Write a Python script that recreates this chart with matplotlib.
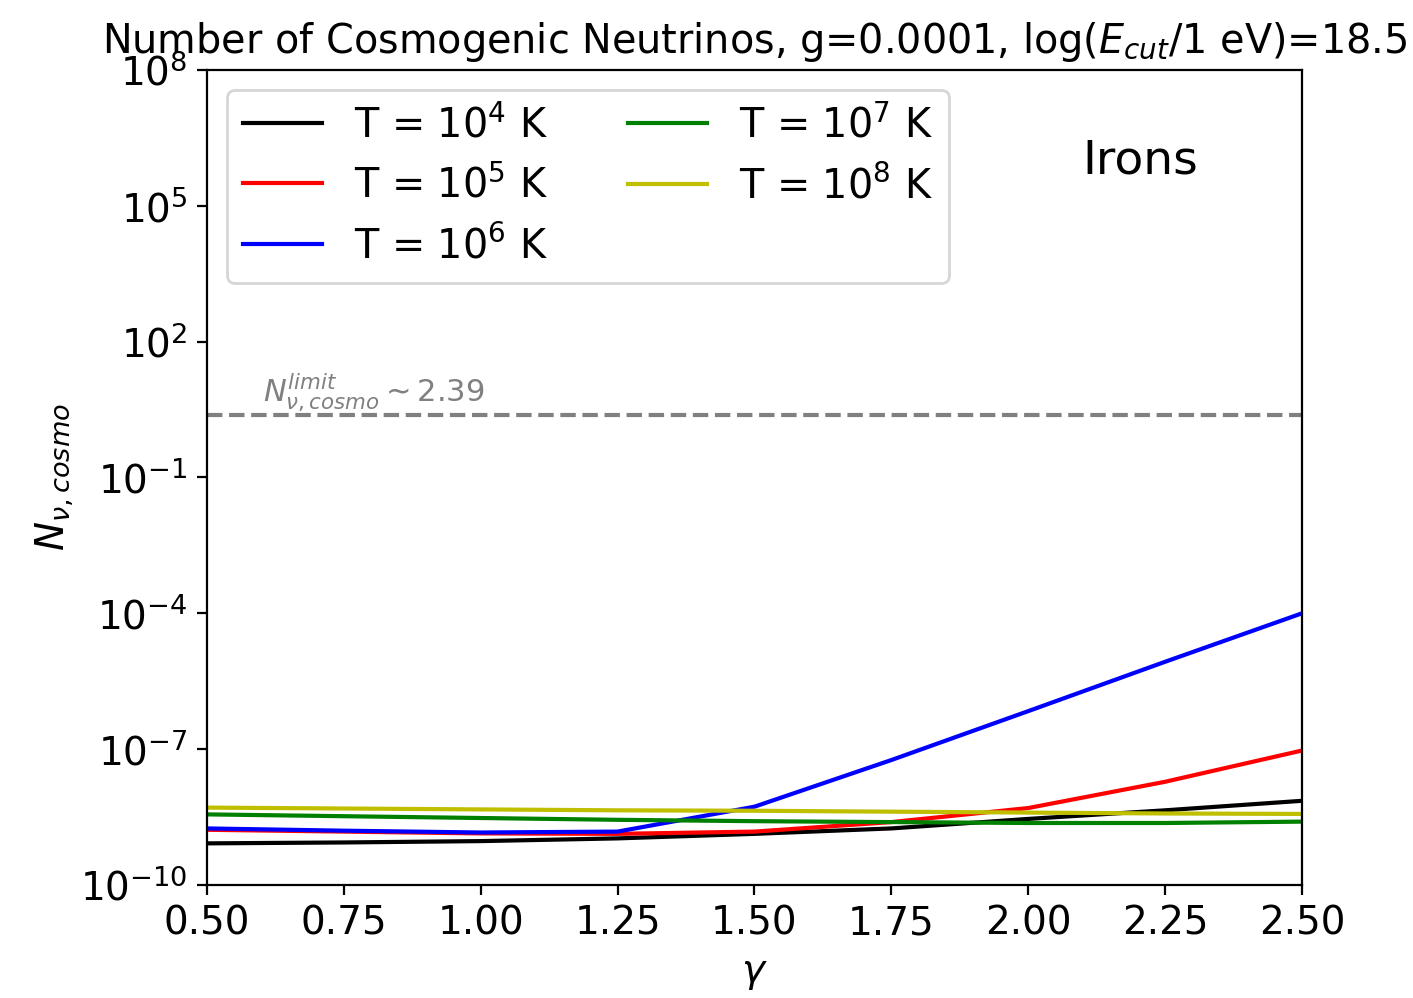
import matplotlib
matplotlib.use("Agg")
import matplotlib.pyplot as plt
import numpy as np

# spectral index grid
gamma = [0.50, 0.75, 1.00, 1.25, 1.50, 1.75, 2.00, 2.25, 2.50]

# log10 of N_nu,cosmo, one list per temperature
logN_T4 = [-9.08, -9.06, -9.03, -8.97, -8.87, -8.75, -8.54, -8.35, -8.14]
logN_T5 = [-8.78, -8.82, -8.86, -8.87, -8.82, -8.61, -8.30, -7.72, -7.03]
logN_T6 = [-8.75, -8.80, -8.84, -8.82, -8.27, -7.24, -6.16, -5.07, -4.00]
logN_T7 = [-8.44, -8.48, -8.52, -8.56, -8.59, -8.61, -8.63, -8.63, -8.60]
logN_T8 = [-8.29, -8.31, -8.33, -8.35, -8.36, -8.38, -8.40, -8.42, -8.43]

labels = [r"T = $10^4$ K", r"T = $10^5$ K", r"T = $10^6$ K",
          r"T = $10^7$ K", r"T = $10^8$ K"]
colors = ["k", "r", "b", "g", "y"]
N_limit = 2.39

fig = plt.figure(figsize=(7.065, 4.99), dpi=200)
ax = fig.add_axes([0.1465, 0.1132, 0.7749, 0.8167])

series = [logN_T4, logN_T5, logN_T6, logN_T7, logN_T8]
for s, lab, c in zip(series, labels, colors):
    ax.plot(gamma, 10.0 ** np.array(s), color=c, label=lab, lw=1.5)

ax.axhline(N_limit, color="gray", ls="--", lw=1.5)
ax.text(0.602, 5.0, r"$N_{\nu,cosmo}^{limit} \sim 2.39$", color="gray",
        fontsize=11)

ax.set_yscale("log")
ax.set_ylim(1e-10, 1e8)
ax.set_xlim(0.5, 2.5)
ax.set_yticks([1e-10, 1e-7, 1e-4, 1e-1, 1e2, 1e5, 1e8])
ax.minorticks_off()
ax.tick_params(labelsize=14)

ax.set_xlabel(r"$\gamma$", fontsize=14)
ax.set_ylabel(r"$N_{\nu, cosmo}$", fontsize=14, labelpad=2)
ax.set_title(r"Number of Cosmogenic Neutrinos, g=0.0001, log($E_{cut}$/1 eV)=18.5",
             fontsize=14.3)
ax.text(0.852, 0.888, "Irons", transform=ax.transAxes, fontsize=17,
        ha="center", va="center")
ax.legend(loc="upper left", ncol=2, fontsize=14.3)

fig.savefig("out.png", dpi=200)
